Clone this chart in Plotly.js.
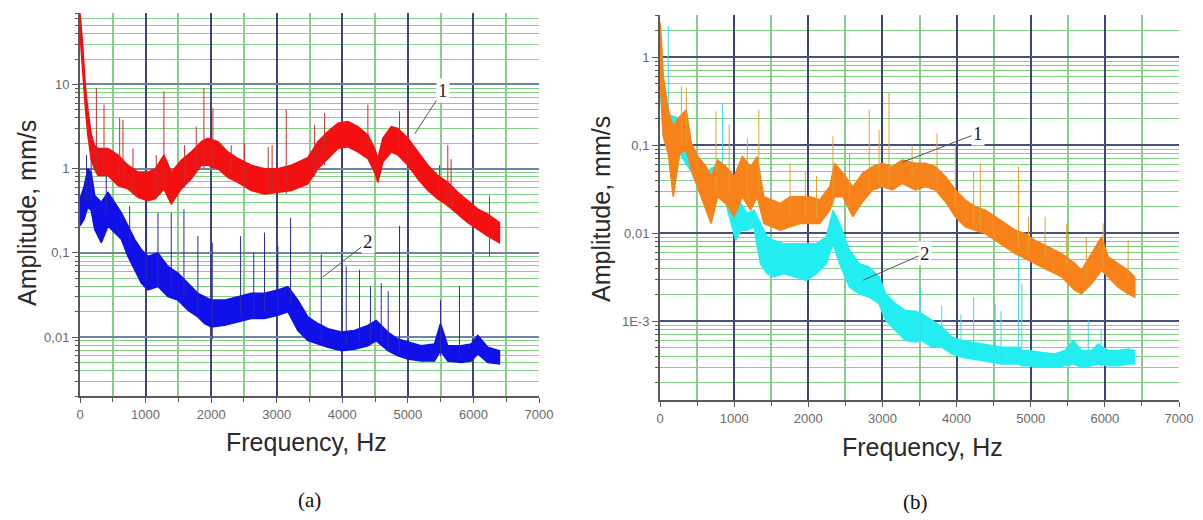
<!DOCTYPE html>
<html><head><meta charset="utf-8">
<script src="https://cdn.plot.ly/plotly-3.0.1.min.js"></script>
<style>html,body{margin:0;padding:0;background:#fff}#chart{width:1203px;height:520px}</style>
</head><body><div id="chart"></div>
<script>
// ---------- (a) curve 1 (red) : band envelope ----------
const redFreq = [0,40,80,120,170,220,275,427,580,732,884,1036,1150,1280,1392,1544,1697,1850,1950,2103,2255,2408,2611,2814,3018,3221,3475,3628,3781,3933,4086,4238,4390,4492,4543,4619,4746,4848,5000,5152,5305,5457,5609,5762,5914,6067,6219,6397];
const redHigh = [70,30,10,5,2.6,1.9,1.74,1.74,1.45,1.10,0.91,0.91,1.0,1.45,0.91,1.26,1.58,2.09,2.29,2.09,1.58,1.32,1.10,1.0,1.0,1.10,1.35,2.09,2.75,3.47,3.63,3.16,2.51,1.74,1.32,2.29,3.16,3.0,2.29,1.58,1.10,0.83,0.69,0.525,0.417,0.331,0.288,0.229];
const redLow  = [40,15,5.5,2.5,1.3,1.0,0.83,0.83,0.63,0.575,0.457,0.417,0.44,0.575,0.38,0.575,0.76,1.10,1.10,1.0,0.79,0.69,0.55,0.50,0.525,0.55,0.66,1.0,1.32,1.74,1.82,1.58,1.32,0.91,0.69,1.20,1.58,1.45,1.10,0.76,0.55,0.437,0.363,0.288,0.229,0.19,0.158,0.132];
const redSpikeFreq = [250,366,605,655,808,1163,1280,1595,1773,1890,2027,2306,2510,2870,2930,3145,3578,3730,4390,4873,5000,5483,5609,5660,6245];
const redSpikeLow  = [0.9,0.9,0.7,0.65,0.5,0.45,0.6,0.6,0.9,1.0,1.0,0.8,0.6,0.5,0.5,0.5,0.8,1.1,1.3,1.4,1.1,0.45,0.35,0.35,0.09];
const redSpikeHigh = [9.1,5.75,4.0,3.8,1.74,1.45,8.3,1.9,3.16,9.1,5.25,1.9,2.0,1.8,1.9,5.0,3.3,4.6,5.75,4.8,6.0,1.1,1.9,1.3,0.48];

// ---------- (a) curve 2 (blue) ----------
const blueFreq = [0,60,120,170,225,325,427,528,630,732,833,935,1036,1189,1341,1494,1646,1798,1900,2002,2205,2408,2611,2814,3018,3170,3323,3475,3628,3781,3984,4187,4390,4517,4695,4848,5000,5203,5406,5498,5609,5812,5965,6067,6219,6397];
const blueHigh = [0.44,0.6,1.0,0.9,0.48,0.40,0.525,0.40,0.30,0.209,0.145,0.11,0.091,0.10,0.069,0.0575,0.0437,0.0331,0.0302,0.0275,0.0275,0.0302,0.0331,0.0331,0.0363,0.0398,0.0275,0.0174,0.0145,0.0126,0.0115,0.012,0.0138,0.0158,0.0115,0.0095,0.0087,0.0079,0.0083,0.0145,0.0079,0.0079,0.0083,0.0105,0.0076,0.0069];
const blueLow  = [0.21,0.25,0.35,0.32,0.19,0.132,0.209,0.174,0.145,0.091,0.063,0.0437,0.0363,0.040,0.0302,0.0275,0.0209,0.0174,0.0145,0.0132,0.0138,0.0151,0.0166,0.0166,0.0182,0.020,0.012,0.0091,0.0083,0.0076,0.0069,0.0072,0.0079,0.0091,0.0069,0.0060,0.0055,0.0052,0.0052,0.0069,0.0052,0.0050,0.0052,0.0063,0.0050,0.0048];
const blueSpikeFreq = [100,170,400,757,1011,1189,1392,1585,1798,2017,2449,2650,2814,3018,3211,3679,4060,4263,4430,4594,4700,4873,5498,5787];
const blueSpikeLow  = [0.4,0.4,0.3,0.12,0.045,0.04,0.035,0.03,0.02,0.0095,0.018,0.017,0.02,0.02,0.025,0.009,0.008,0.009,0.009,0.009,0.007,0.0065,0.006,0.0055];
const blueSpikeHigh = [1.45,1.58,0.83,0.36,0.40,0.30,0.30,0.33,0.158,0.132,0.158,0.10,0.174,0.12,0.263,0.096,0.069,0.063,0.04,0.0437,0.035,0.209,0.0275,0.040];

// ---------- (b) curve 1 (orange) ----------
const orangeFreq = [0,20,44,111,178,267,355,422,511,622,689,777,888,1000,1111,1222,1311,1400,1511,1622,1755,1889,2022,2155,2289,2355,2466,2600,2733,2866,3000,3133,3266,3446,3580,3715,3850,3984,4118,4253,4387,4521,4656,4790,4924,5058,5238,5418,5597,5686,5820,5955,6045,6179,6314,6403];
const orangeHigh = [2.5,1.5,0.607,0.253,0.163,0.212,0.253,0.105,0.0743,0.0571,0.044,0.068,0.0571,0.044,0.0743,0.0571,0.0743,0.026,0.0238,0.0218,0.026,0.026,0.026,0.0238,0.0338,0.0623,0.048,0.0338,0.048,0.0571,0.0623,0.0571,0.068,0.0623,0.0623,0.0571,0.044,0.031,0.0238,0.020,0.0183,0.0154,0.0129,0.0108,0.0099,0.0083,0.00698,0.00586,0.00451,0.00379,0.00586,0.0091,0.00537,0.00451,0.00379,0.00318];
const orangeLow  = [0.6,0.3,0.126,0.081,0.026,0.081,0.0885,0.0523,0.0338,0.0183,0.0129,0.026,0.0218,0.0154,0.026,0.0183,0.026,0.0129,0.0118,0.0108,0.0118,0.0129,0.0129,0.0129,0.0183,0.026,0.026,0.0154,0.0228,0.031,0.0338,0.031,0.0369,0.031,0.0338,0.031,0.0228,0.0154,0.0118,0.0108,0.0099,0.0083,0.00698,0.00586,0.00514,0.00451,0.00379,0.00318,0.00224,0.00205,0.00267,0.00379,0.00318,0.00244,0.00205,0.00188];
const orangeSpikeFreq = [289,355,755,933,1178,1333,1755,1960,2111,2333,2555,2822,2955,3089,3400,3737,3984,4230,4320,4500,4836,4970,5194,5485,5750,5977,6314];
const orangeSpikeLow  = [0.1,0.1,0.03,0.03,0.025,0.03,0.015,0.015,0.015,0.02,0.02,0.03,0.035,0.035,0.04,0.03,0.018,0.012,0.011,0.009,0.007,0.006,0.005,0.004,0.003,0.004,0.003];
const orangeSpikeHigh = [0.467,0.45,0.242,0.171,0.12,0.253,0.0623,0.05,0.045,0.126,0.08,0.253,0.150,0.392,0.10,0.137,0.0966,0.05,0.0623,0.0571,0.0571,0.0154,0.0154,0.0129,0.009,0.0129,0.0083];

// ---------- (b) curve 2 (cyan) ----------
const cyanFreq = [0,44,111,267,422,622,777,888,1022,1089,1178,1266,1355,1444,1533,1666,1800,1978,2111,2244,2333,2422,2555,2688,2822,2955,3044,3177,3311,3446,3536,3670,3805,3939,4073,4208,4342,4477,4611,4745,4840,4880,4969,5149,5328,5463,5575,5686,5820,5910,6045,6179,6314,6403];
const cyanHigh = [2.0,0.5,0.22,0.2,0.1,0.05,0.06,0.05,0.0183,0.0218,0.0168,0.0183,0.0129,0.0091,0.0083,0.0076,0.0076,0.0076,0.0076,0.0091,0.0183,0.0129,0.0064,0.00451,0.00413,0.00318,0.00205,0.00158,0.00132,0.0013,0.00121,0.00102,0.000855,0.000657,0.000602,0.000576,0.000551,0.000528,0.000505,0.000505,0.000505,0.000463,0.000463,0.000441,0.000424,0.000463,0.000602,0.000463,0.000463,0.000551,0.000463,0.000463,0.000483,0.000463];
const cyanLow  = [0.5,0.13,0.08,0.08,0.05,0.02,0.026,0.022,0.0083,0.0108,0.0108,0.0118,0.00451,0.00347,0.00318,0.00347,0.00318,0.00291,0.00347,0.00451,0.0076,0.00451,0.00244,0.00205,0.00188,0.00158,0.00102,0.000783,0.000602,0.00058,0.000602,0.000505,0.000505,0.000424,0.000388,0.000372,0.000356,0.00034,0.000326,0.000326,0.000326,0.000312,0.000312,0.000299,0.000299,0.000312,0.000326,0.000299,0.000312,0.000326,0.000312,0.000312,0.000326,0.000326];
const cyanSpikeFreq = [111,844,3513,3800,4060,4230,4521,4600,4836,4880,5530,5776,5950];
const cyanSpikeLow  = [0.2,0.05,0.0006,0.0005,0.0004,0.0004,0.0004,0.00035,0.0004,0.0004,0.0003,0.0003,0.0003];
const cyanSpikeHigh = [2.26,0.3,0.00224,0.0015,0.0012,0.00188,0.00158,0.0013,0.0083,0.00267,0.0009,0.00102,0.0008];

// ---------- tick labels ----------
const xTicks = [0,1000,2000,3000,4000,5000,6000,7000];
const yTicksA = [0.01,0.1,1,10];
const yTextA = ['0,01','0,1','1','10'];
const yTicksB = [0.001,0.01,0.1,1];
const yTextB = ['1E-3','0,01','0,1','1'];

// ---------- helpers ----------
function band(freq, hi, lo, xa, ya, color) {
  return {type:'scatter', mode:'lines', x: freq.concat(freq.slice().reverse()),
    y: hi.concat(lo.slice().reverse()), fill:'toself', fillcolor: color,
    line:{color: color, width:1.5}, xaxis: xa, yaxis: ya, hoverinfo:'skip', showlegend:false};
}
function spikes(freq, lo, hi, xa, ya, color) {
  const x = [], y = [];
  freq.forEach((f, i) => { x.push(f, f, null); y.push(lo[i], hi[i], null); });
  return {type:'scatter', mode:'lines', x, y, line:{color, width:1}, xaxis: xa, yaxis: ya,
    hoverinfo:'skip', showlegend:false, connectgaps:false};
}
function logMinor(e0, e1) {
  const v = [];
  for (let e = e0; e <= e1; e++) for (let d = 2; d <= 9; d++) v.push(d * Math.pow(10, e));
  return v;
}
function halfSteps(max, step) {
  const v = [];
  for (let t = step; t < max; t += 2 * step) v.push(t);
  return v;
}

const traces = [
  band(blueFreq, blueHigh, blueLow, 'x', 'y', '#1010e8'),
  spikes(blueSpikeFreq, blueSpikeLow, blueSpikeHigh, 'x', 'y', '#2a2aa8'),
  band(redFreq, redHigh, redLow, 'x', 'y', '#f41010'),
  spikes(redSpikeFreq, redSpikeLow, redSpikeHigh, 'x', 'y', '#c03030'),
  band(cyanFreq, cyanHigh, cyanLow, 'x2', 'y2', '#22eef2'),
  spikes(cyanSpikeFreq, cyanSpikeLow, cyanSpikeHigh, 'x2', 'y2', '#40d8e8'),
  band(orangeFreq, orangeHigh, orangeLow, 'x2', 'y2', '#f7821a'),
  spikes(orangeSpikeFreq, orangeSpikeLow, orangeSpikeHigh, 'x2', 'y2', '#e0a030')
];

const green = '#84d084';
const tickFont = {family:'Liberation Sans, Arial, sans-serif', size:13, color:'#6a6a6a'};
function xAxis(domain, anchor) {
  return {domain, anchor, range:[0,7000], tickmode:'array', tickvals:xTicks,
    showgrid:true, gridcolor:'#3e4676', gridwidth:2, zeroline:false,
    showline:true, linecolor:'#5a5a5a', linewidth:2, ticks:'outside', ticklen:5, tickcolor:'#5a5a5a',
    tickfont:tickFont,
    minor:{tickmode:'array', tickvals:halfSteps(7000, 500), showgrid:true, gridcolor:green, gridwidth:2,
      ticks:'outside', ticklen:4, tickcolor:'#5a5a5a'}};
}
function yAxis(domain, anchor, range, tv, tt, e0, e1, gc) {
  return {domain, anchor, type:'log', range, tickmode:'array', tickvals:tv, ticktext:tt,
    showgrid:true, gridcolor:gc, gridwidth:2, zeroline:false,
    showline:true, linecolor:'#5a5a5a', linewidth:2, ticks:'outside', ticklen:6, tickcolor:'#5a5a5a',
    tickfont:tickFont,
    minor:{tickmode:'array', tickvals:logMinor(e0, e1), showgrid:true, gridcolor:green, gridwidth:1,
      ticks:'outside', ticklen:3, tickcolor:'#5a5a5a'}};
}
const W = 1203, H = 520;
const titleFont = {family:'Liberation Sans, Arial, sans-serif', size:25, color:'#2a2a2a'};
const numFont = {family:'Liberation Serif, Times New Roman, serif', size:19, color:'#222'};
const capFont = {family:'Liberation Serif, Times New Roman, serif', size:21, color:'#111'};
const L = Math.log10;
function paperText(x, y, text, font, angle) {
  return {xref:'paper', yref:'paper', x:x/W, y:1-y/H, xanchor:'center', yanchor:'middle',
    text, textangle:angle || 0, showarrow:false, font};
}
function label(xa, ya, f, v, tf, tv, text) {
  return {xref:xa, yref:ya, x:f, y:L(v), axref:xa, ayref:ya, ax:tf, ay:L(tv), text,
    showarrow:true, arrowhead:0, arrowwidth:1, arrowcolor:'#555', bgcolor:'#fff', font:numFont, standoff:0};
}

const layout = {
  width:W, height:H, margin:{l:0,r:0,t:0,b:0}, paper_bgcolor:'#fff', plot_bgcolor:'#fff',
  showlegend:false,
  xaxis: xAxis([80/W, 539/W], 'y'),
  yaxis: yAxis([1-396/H, 1-13/H], 'x', [L(0.002), L(70.5)], yTicksA, yTextA, -3, 1, '#7482a4'),
  xaxis2: xAxis([660/W, 1179/W], 'y2'),
  yaxis2: yAxis([1-400/H, 1-15/H], 'x2', [L(1.27e-4), L(3.02)], yTicksB, yTextB, -4, 0, '#46507a'),
  annotations: [
    paperText(27, 213, 'Amplitude, mm/s', titleFont, -90),
    paperText(601, 209, 'Amplitude, mm/s', titleFont, -90),
    paperText(306, 442, 'Frequency, Hz', titleFont),
    paperText(922, 447, 'Frequency, Hz', titleFont),
    paperText(309, 500, '(a)', capFont),
    paperText(916, 502, '(b)', capFont),
    label('x', 'y', 5107, 2.6, 5534, 8.5, '1'),
    label('x', 'y', 3704, 0.0518, 4390, 0.135, '2'),
    label('x2', 'y2', 3266, 0.064, 4291, 0.137, '1'),
    label('x2', 'y2', 2740, 0.00292, 3576, 0.00593, '2')
  ]
};
Plotly.newPlot('chart', traces, layout, {staticPlot:true, displayModeBar:false});
</script></body></html>
